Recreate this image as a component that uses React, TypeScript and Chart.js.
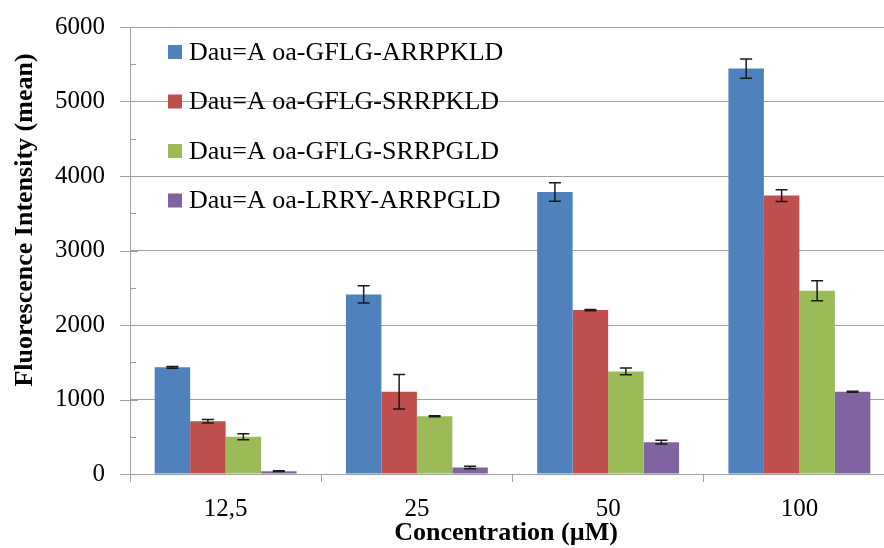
import React, { useEffect, useRef } from "react";
import { Chart, registerables } from "chart.js";

Chart.register(...registerables);

const categories = ["12,5", "25", "50", "100"];
const seriesLabels = [
  "Dau=A oa-GFLG-ARRPKLD",
  "Dau=A oa-GFLG-SRRPKLD",
  "Dau=A oa-GFLG-SRRPGLD",
  "Dau=A oa-LRRY-ARRPGLD",
];
const seriesColors = ["#4F81BD", "#C0504D", "#9BBB59", "#8064A2"];
const arrpkld = [1432, 2411, 3785, 5442];
const srrpkld = [709, 1104, 2200, 3737];
const srrpgld = [500, 776, 1377, 2461];
const lrry = [38, 87, 427, 1104];
const arrpkldErr = [12, 115, 123, 130];
const srrpkldErr = [23, 233, 8, 78];
const srrpgldErr = [40, 6, 45, 134];
const lrryErr = [5, 18, 25, 8];
const yTicks = [0, 1000, 2000, 3000, 4000, 5000, 6000];
const xTitle = "Concentration (µM)";
const yTitle = "Fluorescence Intensity (mean)";

const FONT = "'Liberation Serif', 'Times New Roman', serif";
const GRID = "#a0a0a0";

const values = [arrpkld, srrpkld, srrpgld, lrry];
const errors = [arrpkldErr, srrpkldErr, srrpgldErr, lrryErr];

const extrasPlugin = {
  id: "extras",
  afterDatasetsDraw(chart: any) {
    const ctx = chart.ctx;
    const y = chart.scales.y;
    ctx.save();
    ctx.strokeStyle = "#1a1a1a";
    ctx.lineWidth = 1.5;
    chart.data.datasets.forEach((ds: any, d: number) => {
      const meta = chart.getDatasetMeta(d);
      meta.data.forEach((el: any, i: number) => {
        const v = ds.data[i];
        const e = errors[d][i];
        const yt = y.getPixelForValue(v + e);
        const yb = y.getPixelForValue(v - e);
        const x = el.x;
        ctx.beginPath();
        ctx.moveTo(x, yt);
        ctx.lineTo(x, yb);
        ctx.moveTo(x - 6, yt);
        ctx.lineTo(x + 6, yt);
        ctx.moveTo(x - 6, yb);
        ctx.lineTo(x + 6, yb);
        ctx.stroke();
      });
    });
    ctx.restore();
  },
  afterDraw(chart: any) {
    const ctx = chart.ctx;
    const y = chart.scales.y;
    const area = chart.chartArea;
    ctx.save();
    // y tick marks
    ctx.strokeStyle = GRID;
    ctx.lineWidth = 1;
    for (let v = 0; v <= 6000; v += 500) {
      const py = Math.round(y.getPixelForValue(v)) + 0.5;
      ctx.beginPath();
      if (v % 1000 === 0) {
        ctx.moveTo(area.left - 10, py);
        ctx.lineTo(area.left + 8, py);
      } else {
        ctx.moveTo(area.left, py);
        ctx.lineTo(area.left + 6, py);
      }
      ctx.stroke();
    }
    // legend
    ctx.textBaseline = "middle";
    ctx.textAlign = "left";
    ctx.font = `26px ${FONT}`;
    chart.data.datasets.forEach((ds: any, d: number) => {
      const cy = 52 + d * 49.5;
      ctx.fillStyle = ds.backgroundColor;
      ctx.fillRect(168, cy - 7, 14, 14);
      ctx.fillStyle = "#000";
      ctx.fillText(ds.label, 189, cy + 1);
    });
    // axis titles
    ctx.font = `bold 26px ${FONT}`;
    ctx.textAlign = "center";
    ctx.fillText(xTitle, 506, 533);
    ctx.translate(25, 220);
    ctx.rotate(-Math.PI / 2);
    ctx.fillText(yTitle, 0, 0);
    ctx.restore();
  },
};

export default function App() {
  const ref = useRef<HTMLCanvasElement | null>(null);
  useEffect(() => {
    if (!ref.current) return;
    const chart = new Chart(ref.current, {
      type: "bar",
      data: {
        labels: categories,
        datasets: values.map((vals, d) => ({
          label: seriesLabels[d],
          data: vals,
          backgroundColor: seriesColors[d],
          borderWidth: 0,
          barPercentage: 1,
          categoryPercentage: 0.742,
        })),
      },
      options: {
        responsive: false,
        animation: false,
        layout: { padding: { top: 27, right: 5, left: 0, bottom: 0 } },
        plugins: {
          legend: { display: false },
          tooltip: { enabled: false },
        },
        scales: {
          x: {
            offset: true,
            grid: {
              offset: true,
              drawOnChartArea: false,
              drawTicks: true,
              tickLength: 8,
              color: GRID,
            },
            border: { display: true, color: GRID },
            ticks: {
              color: "#000",
              font: { family: FONT, size: 25 },
              padding: 12,
            },
            afterFit: (s: any) => {
              s.height = 74;
            },
          },
          y: {
            min: 0,
            max: 6000,
            afterBuildTicks: (s: any) => {
              s.ticks = yTicks.map((v) => ({ value: v }));
            },
            grid: { color: GRID, drawTicks: false },
            border: { display: true, color: GRID },
            ticks: {
              color: "#000",
              font: { family: FONT, size: 25 },
              padding: 25,
              callback: (v: any) => String(v),
            },
            afterFit: (s: any) => {
              s.width = 130;
              s.paddingTop = 13;
              s.paddingBottom = 13;
            },
          },
        },
      },
      plugins: [extrasPlugin],
    });
    return () => chart.destroy();
  }, []);
  return (
    <div
      style={{
        position: "absolute",
        left: 0,
        top: 0,
        width: 884,
        height: 548,
        overflow: "hidden",
        background: "#fff",
      }}
    >
      <canvas ref={ref} width={900} height={548} style={{ display: "block" }} />
    </div>
  );
}
